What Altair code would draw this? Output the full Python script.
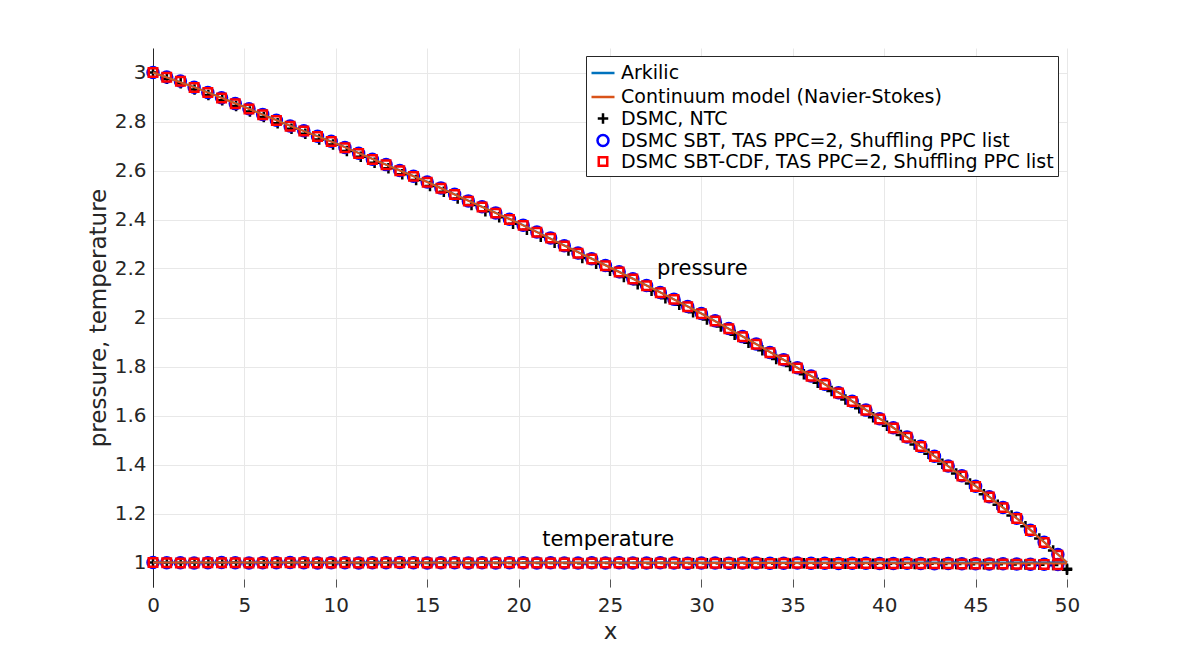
import altair as alt
import pandas as pd

# ---------------- data ----------------
series_names = [
    "Arkilic",
    "Continuum model (Navier-Stokes)",
    "DSMC, NTC",
    "DSMC SBT, TAS PPC=2, Shuffling PPC list",
    "DSMC SBT-CDF, TAS PPC=2, Shuffling PPC list",
]
series_colors = ["#0072BD", "#D95319", "#000000", "#0000FF", "#FF0000"]
series_shapes = ["stroke", "stroke", "M-1,0H1M0,-1V1", "circle", "square"]
series_sizes = [529, 529, 110, 121, 72]

# model curves (pressure)
line_x = [0, 2.5, 5, 7.5, 10, 12.5, 15, 17.5, 20, 22.5, 25, 27.5, 30, 32.5,
          35, 37.5, 40, 42.5, 45, 47.5, 48.75, 49.5, 50]
p_arkilic = [3.000, 2.934, 2.860, 2.783, 2.712, 2.632, 2.554, 2.469, 2.386,
             2.294, 2.205, 2.113, 2.017, 1.913, 1.807, 1.694, 1.576, 1.448,
             1.312, 1.166, 1.084, 1.034, 1.000]
p_ns = [3.000, 2.933, 2.859, 2.782, 2.711, 2.631, 2.553, 2.468, 2.385, 2.293,
        2.204, 2.112, 2.016, 1.912, 1.806, 1.693, 1.575, 1.447, 1.311, 1.165,
        1.083, 1.033, 1.000]
# model curves (temperature)
t_line_x = [0, 25, 50]
t_arkilic = [1.000, 1.000, 1.000]
t_ns = [1.000, 0.999, 0.996]

# DSMC SBT / SBT-CDF cell positions
x_sbt = [0.0, 0.75, 1.5, 2.25, 3.0, 3.75, 4.5, 5.25, 6.0, 6.75,
         7.5, 8.25, 9.0, 9.75, 10.5, 11.25, 12.0, 12.75, 13.5, 14.25,
         15.0, 15.75, 16.5, 17.25, 18.0, 18.75, 19.5, 20.25, 21.0, 21.75,
         22.5, 23.25, 24.0, 24.75, 25.5, 26.25, 27.0, 27.75, 28.5, 29.25,
         30.0, 30.75, 31.5, 32.25, 33.0, 33.75, 34.5, 35.25, 36.0, 36.75,
         37.5, 38.25, 39.0, 39.75, 40.5, 41.25, 42.0, 42.75, 43.5, 44.25,
         45.0, 45.75, 46.5, 47.25, 48.0, 48.75, 49.5]
p_sbt = [3.000, 2.982, 2.965, 2.940, 2.918, 2.897, 2.873, 2.852, 2.829, 2.805,
         2.782, 2.762, 2.740, 2.719, 2.694, 2.670, 2.646, 2.624, 2.600, 2.577,
         2.553, 2.529, 2.503, 2.476, 2.452, 2.427, 2.401, 2.377, 2.349, 2.325,
         2.293, 2.263, 2.240, 2.212, 2.187, 2.158, 2.131, 2.102, 2.075, 2.045,
         2.016, 1.987, 1.955, 1.922, 1.892, 1.857, 1.828, 1.795, 1.761, 1.728,
         1.693, 1.658, 1.622, 1.587, 1.550, 1.512, 1.474, 1.434, 1.394, 1.354,
         1.311, 1.268, 1.225, 1.181, 1.132, 1.083, 1.033]
p_cdf = [3.000, 2.981, 2.964, 2.939, 2.918, 2.896, 2.872, 2.851, 2.828, 2.804,
         2.781, 2.761, 2.739, 2.718, 2.693, 2.669, 2.645, 2.623, 2.599, 2.576,
         2.552, 2.528, 2.502, 2.475, 2.451, 2.426, 2.400, 2.376, 2.348, 2.324,
         2.292, 2.262, 2.239, 2.211, 2.186, 2.157, 2.130, 2.101, 2.074, 2.044,
         2.015, 1.986, 1.954, 1.921, 1.891, 1.856, 1.827, 1.794, 1.760, 1.727,
         1.692, 1.657, 1.621, 1.586, 1.549, 1.511, 1.473, 1.433, 1.393, 1.353,
         1.310, 1.267, 1.224, 1.180, 1.131, 1.082, 1.030]
t_sbt = [1.000, 0.999, 0.999, 0.998, 0.999, 1.000, 0.999, 0.998, 0.999, 0.999,
         1.000, 0.999, 0.998, 0.999, 0.999, 0.998, 0.999, 0.999, 1.000, 0.999,
         0.998, 0.999, 0.999, 0.998, 0.999, 0.998, 0.999, 0.999, 0.998, 0.999,
         0.998, 0.998, 0.999, 0.998, 0.999, 0.998, 0.998, 0.999, 0.998, 0.997,
         0.998, 0.998, 0.997, 0.998, 0.998, 0.997, 0.997, 0.998, 0.997, 0.997,
         0.996, 0.997, 0.997, 0.996, 0.996, 0.997, 0.996, 0.995, 0.996, 0.995,
         0.995, 0.994, 0.995, 0.994, 0.993, 0.993, 0.992]
t_cdf = [1.000, 0.999, 0.998, 0.998, 0.999, 0.999, 0.999, 0.998, 0.998, 0.999,
         0.999, 0.999, 0.998, 0.998, 0.999, 0.998, 0.998, 0.999, 0.999, 0.999,
         0.998, 0.998, 0.999, 0.998, 0.998, 0.998, 0.999, 0.998, 0.998, 0.998,
         0.998, 0.997, 0.998, 0.998, 0.998, 0.998, 0.997, 0.998, 0.997, 0.997,
         0.997, 0.997, 0.997, 0.997, 0.997, 0.996, 0.997, 0.997, 0.996, 0.996,
         0.996, 0.996, 0.996, 0.995, 0.995, 0.996, 0.995, 0.995, 0.995, 0.994,
         0.994, 0.994, 0.994, 0.993, 0.993, 0.992, 0.991]

# DSMC NTC cell positions
x_ntc = [0.0, 0.758, 1.515, 2.273, 3.030, 3.788, 4.545, 5.303, 6.061, 6.818,
         7.576, 8.333, 9.091, 9.848, 10.606, 11.364, 12.121, 12.879, 13.636, 14.394,
         15.152, 15.909, 16.667, 17.424, 18.182, 18.939, 19.697, 20.455, 21.212, 21.970,
         22.727, 23.485, 24.242, 25.000, 25.758, 26.515, 27.273, 28.030, 28.788, 29.545,
         30.303, 31.061, 31.818, 32.576, 33.333, 34.091, 34.848, 35.606, 36.364, 37.121,
         37.879, 38.636, 39.394, 40.152, 40.909, 41.667, 42.424, 43.182, 43.939, 44.697,
         45.455, 46.212, 46.970, 47.727, 48.485, 49.242, 50.000]
p_ntc = [3.000, 2.974, 2.956, 2.931, 2.908, 2.887, 2.863, 2.841, 2.818, 2.793,
         2.770, 2.750, 2.727, 2.706, 2.680, 2.656, 2.632, 2.609, 2.585, 2.561,
         2.537, 2.513, 2.486, 2.459, 2.434, 2.409, 2.383, 2.358, 2.330, 2.305,
         2.273, 2.243, 2.219, 2.191, 2.165, 2.136, 2.109, 2.079, 2.052, 2.021,
         1.992, 1.963, 1.930, 1.897, 1.866, 1.831, 1.802, 1.768, 1.734, 1.700,
         1.665, 1.630, 1.593, 1.558, 1.520, 1.482, 1.444, 1.403, 1.363, 1.322,
         1.279, 1.236, 1.192, 1.148, 1.098, 1.049, 0.970]
t_ntc = [1.000, 0.999, 0.998, 0.999, 0.998, 0.999, 1.000, 0.998, 0.999, 0.998,
         0.999, 1.000, 0.999, 0.998, 0.999, 0.998, 0.999, 0.999, 0.998, 0.999,
         0.998, 0.999, 0.998, 0.998, 0.999, 0.998, 0.998, 0.999, 0.998, 0.998,
         0.998, 0.997, 0.998, 0.998, 0.997, 0.998, 0.997, 0.998, 0.997, 0.997,
         0.997, 0.997, 0.996, 0.997, 0.997, 0.996, 0.996, 0.997, 0.996, 0.996,
         0.995, 0.996, 0.995, 0.995, 0.995, 0.994, 0.995, 0.994, 0.994, 0.993,
         0.993, 0.993, 0.992, 0.992, 0.991, 0.990, 0.975]

# annotations
note_text = ["pressure", "temperature"]
note_x = [30.05, 24.9]
note_y = [2.20, 1.09]

x_ticks = [0, 5, 10, 15, 20, 25, 30, 35, 40, 45, 50]
y_ticks = [1.0, 1.2, 1.4, 1.6, 1.8, 2.0, 2.2, 2.4, 2.6, 2.8, 3.0]

# ---------------- tables ----------------
def rows(xs, ys, name, q):
    return [{"x": a, "y": b, "series": name, "q": q} for a, b in zip(xs, ys)]

ark_df = pd.DataFrame(rows(line_x, p_arkilic, series_names[0], "p")
                      + rows(t_line_x, t_arkilic, series_names[0], "t"))
ns_df = pd.DataFrame(rows(line_x, p_ns, series_names[1], "p")
                     + rows(t_line_x, t_ns, series_names[1], "t"))
pts_df = pd.DataFrame(
    rows(x_ntc, p_ntc, series_names[2], "p") + rows(x_ntc, t_ntc, series_names[2], "t")
    + rows(x_sbt, p_sbt, series_names[3], "p") + rows(x_sbt, t_sbt, series_names[3], "t")
    + rows(x_sbt, p_cdf, series_names[4], "p") + rows(x_sbt, t_cdf, series_names[4], "t")
)
notes_df = pd.DataFrame({"x": note_x, "y": note_y, "text": note_text})

FONT = "DejaVu Sans"
AX = "#262626"

x_scale = alt.Scale(domain=[0, 50], nice=False, zero=False)
y_scale = alt.Scale(domain=[0.9, 3.1], nice=False, zero=False)
color_scale = alt.Scale(domain=series_names, range=series_colors)
shape_scale = alt.Scale(domain=series_names, range=series_shapes)
size_scale = alt.Scale(type="ordinal", domain=series_names, range=series_sizes)

x_axis = alt.Axis(values=x_ticks, grid=True, gridColor="#e8e8e8", domain=False,
                  ticks=True, tickSize=8, tickColor="#555555", offset=-8,
                  labelFont=FONT, labelFontSize=20, labelColor=AX, labelPadding=8,
                  labelFlush=False, title="x", titleFont=FONT, titleFontSize=23,
                  titleFontWeight="normal", titleColor=AX, titlePadding=5)
y_axis = alt.Axis(values=y_ticks, format="~g", grid=True, gridColor="#e8e8e8",
                  domain=True, domainColor=AX, domainWidth=1, ticks=False,
                  labelFont=FONT, labelFontSize=20, labelColor=AX, labelPadding=7,
                  labelFlush=False, title="pressure, temperature", titleFont=FONT,
                  titleFontSize=23, titleFontWeight="normal", titleColor=AX,
                  titlePadding=4)

legend = alt.Legend(title=None, orient="none", legendX=433, legendY=8,
                    fillColor="white", strokeColor=AX, padding=4,
                    labelFont=FONT, labelFontSize=19, labelColor="black",
                    labelLimit=800, symbolStrokeWidth=2.5, rowPadding=1,
                    labelOffset=5)

X = alt.X("x:Q", scale=x_scale, axis=x_axis)
Y = alt.Y("y:Q", scale=y_scale, axis=y_axis)

pts = alt.Chart(pts_df).mark_point(filled=False, strokeWidth=2.5, opacity=1).encode(
    x=X, y=Y,
    color=alt.Color("series:N", scale=color_scale, legend=legend, sort=series_names),
    shape=alt.Shape("series:N", scale=shape_scale, legend=legend, sort=series_names),
    size=alt.Size("series:N", scale=size_scale, legend=legend, sort=series_names),
)
ark = alt.Chart(ark_df).mark_line(strokeWidth=2).encode(
    x=X, y=Y, detail="q:N",
    color=alt.Color("series:N", scale=color_scale, legend=legend, sort=series_names),
)
ns = alt.Chart(ns_df).mark_line(strokeWidth=2).encode(
    x=X, y=Y, detail="q:N",
    color=alt.Color("series:N", scale=color_scale, legend=legend, sort=series_names),
)
notes = alt.Chart(notes_df).mark_text(font=FONT, fontSize=21, color="black").encode(
    x=X, y=Y, text="text:N"
)

chart = alt.layer(pts, ark, ns, notes).properties(
    width=914, height=539,
    autosize=alt.AutoSizeParams(type="none"),
    padding={"left": 145, "top": 40, "right": 100, "bottom": 60},
).configure(background="white", view=alt.ViewConfig(stroke=None))

chart.save("out.html", embed_options={"renderer": "svg", "actions": False})
